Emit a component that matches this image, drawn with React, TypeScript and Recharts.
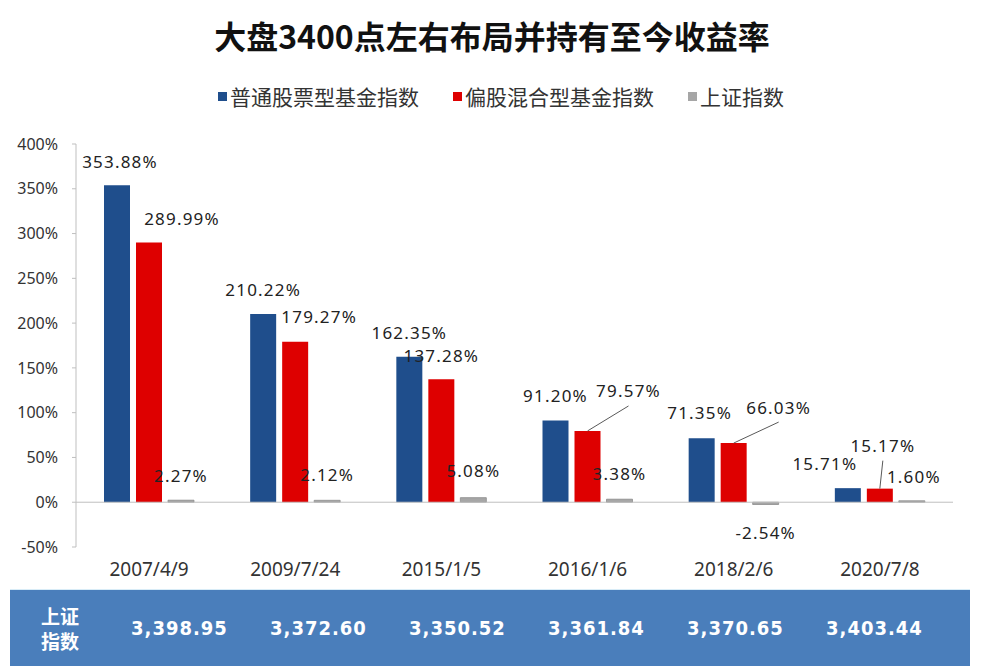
import React from "react";
import { BarChart, Bar, XAxis, YAxis, ReferenceLine, LabelList } from "recharts";

const categories = ["2007/4/9", "2009/7/24", "2015/1/5", "2016/1/6", "2018/2/6", "2020/7/8"];
const equityFund = [353.88, 210.22, 162.35, 91.2, 71.35, 15.71];
const hybridFund = [289.99, 179.27, 137.28, 79.57, 66.03, 15.17];
const shIndex = [2.27, 2.12, 5.08, 3.38, -2.54, 1.6];
const shLevels = ["3,398.95", "3,372.60", "3,350.52", "3,361.84", "3,370.65", "3,403.44"];
const yTicks = [-50, 0, 50, 100, 150, 200, 250, 300, 350, 400];

const SERIES = [
  { key: "equity", name: "普通股票型基金指数", color: "#1f4e8c" },
  { key: "hybrid", name: "偏股混合型基金指数", color: "#de0000" },
  { key: "index", name: "上证指数", color: "#a6a6a6" },
];

// label shifts (dx, dy) from the bar top centre, as in the original layout
const LABEL_SHIFT: Record<string, number[][]> = {
  equity: [[3, -24], [0, -24], [0, -24], [0, -25], [-2, -26], [-23, -25]],
  hybrid: [[33, -24], [24, -25], [0, -24], [41, -40], [45, -36], [3, -43]],
  index: [[0, -25], [0, -26], [0, -27], [0, -26], [0, 28], [2, -24]],
};

const chartData = categories.map((name, i) => ({
  name,
  equity: equityFund[i],
  hybrid: hybridFund[i],
  index: shIndex[i],
}));

const CJK = '"Noto Sans CJK SC", "Noto Sans", sans-serif';

function makeLabel(key: string, values: number[]) {
  // eslint-disable-next-line @typescript-eslint/no-explicit-any
  return (props: any) => {
    const vb = props.viewBox && props.viewBox.width != null ? props.viewBox : props;
    const x = Number(vb.x), y = Number(vb.y), w = Number(vb.width), h = Number(vb.height);
    const value = Number(props.value);
    let idx = typeof props.index === "number" ? props.index : -1;
    if (idx < 0) idx = values.findIndex((v) => v === value);
    const [dx, dy] = LABEL_SHIFT[key][idx] || [0, -24];
    const cx = x + w / 2;
    const top = Math.min(y, y + h);
    const bottom = Math.max(y, y + h);
    const anchorY = value < 0 ? bottom : top;
    const tx = cx + dx;
    const ty = anchorY + dy;
    const leader = Math.abs(dy) > 30 && value > 0;
    return (
      <g>
        {leader && <line x1={cx} y1={top} x2={tx} y2={ty + 15} stroke="#595959" strokeWidth={1} />}
        <text
          x={tx}
          y={ty}
          textAnchor="middle"
          dominantBaseline="central"
          fontSize={17}
          letterSpacing={1.2}
          fill="#222"
          fontFamily='"Noto Sans", sans-serif'
        >
          {value.toFixed(2) + "%"}
        </text>
      </g>
    );
  };
}

// eslint-disable-next-line @typescript-eslint/no-explicit-any
function CategoryTick({ x, y, payload }: any) {
  return (
    <text x={x} y={y + 22} textAnchor="middle" dominantBaseline="central" fontSize={19} fill="#333"
      fontFamily='"Noto Sans", sans-serif'>
      {payload.value}
    </text>
  );
}

export default function App() {
  return (
    <div style={{ position: "absolute", left: 0, top: 0, width: 984, height: 670, background: "#fff", fontFamily: CJK }}>
      <div style={{ position: "absolute", top: 17, left: 0, width: 984, textAlign: "center", fontSize: 32, lineHeight: "36px", fontWeight: 700, color: "#111" }}>
        大盘3400点左右布局并持有至今收益率
      </div>
      <div style={{ position: "absolute", top: 84, left: 0, width: 984, display: "flex", justifyContent: "center", alignItems: "center", fontSize: 21, lineHeight: "24px", color: "#333" }}>
        {SERIES.map((s, i) => (
          <div key={s.key} style={{ display: "flex", alignItems: "center", marginLeft: i === 0 ? 18 : 34 }}>
            <span style={{ display: "inline-block", width: 9, height: 9, background: s.color, marginRight: 3 }} />
            <span>{s.name}</span>
          </div>
        ))}
      </div>
      <div style={{ position: "absolute", top: 0, left: 0 }}>
        <BarChart width={984} height={588} data={chartData}
          margin={{ top: 144, right: 31, bottom: 3, left: 0 }}
          barCategoryGap={28} barGap={6}>
          <XAxis dataKey="name" height={38} axisLine={false} tickLine={false} tickSize={0} tickMargin={0}
            tick={<CategoryTick />} interval={0} />
          <YAxis width={76} domain={[-50, 400]} ticks={yTicks} interval={0}
            tickFormatter={(v) => `${v}%`}
            tick={{ fill: "#333", fontSize: 16, fontFamily: '"Noto Sans", sans-serif' }}
            axisLine={{ stroke: "#bfbfbf" }} tickLine={{ stroke: "#bfbfbf" }}
            tickSize={4} tickMargin={14} />
          <ReferenceLine y={0} stroke="#bfbfbf" strokeWidth={1} />
          <Bar dataKey="equity" fill="#1f4e8c" isAnimationActive={false}>
            <LabelList dataKey="equity" content={makeLabel("equity", equityFund)} />
          </Bar>
          <Bar dataKey="hybrid" fill="#de0000" isAnimationActive={false}>
            <LabelList dataKey="hybrid" content={makeLabel("hybrid", hybridFund)} />
          </Bar>
          <Bar dataKey="index" fill="#a6a6a6" stroke="#8c8c8c" strokeWidth={0.8} isAnimationActive={false}>
            <LabelList dataKey="index" content={makeLabel("index", shIndex)} />
          </Bar>
        </BarChart>
      </div>
      <div style={{ position: "absolute", top: 590, left: 10, width: 960, height: 76, background: "#4a7ebb", display: "flex", alignItems: "center", color: "#fff", boxShadow: "0 -1px 0 #d8ecf7" }}>
        <div style={{ width: 100, textAlign: "center", fontSize: 19, fontWeight: 700 }}>
          <div style={{ lineHeight: "20px", height: 20, marginBottom: 5 }}>上证</div>
          <div style={{ lineHeight: "20px", height: 20 }}>指数</div>
        </div>
        {shLevels.map((v) => (
          <div key={v} style={{ width: 139, textAlign: "center", fontSize: 20, fontWeight: 700, letterSpacing: 1,
            fontFamily: '"DejaVu Sans Condensed", "Liberation Sans Narrow", sans-serif' }}>
            {v}
          </div>
        ))}
      </div>
    </div>
  );
}
